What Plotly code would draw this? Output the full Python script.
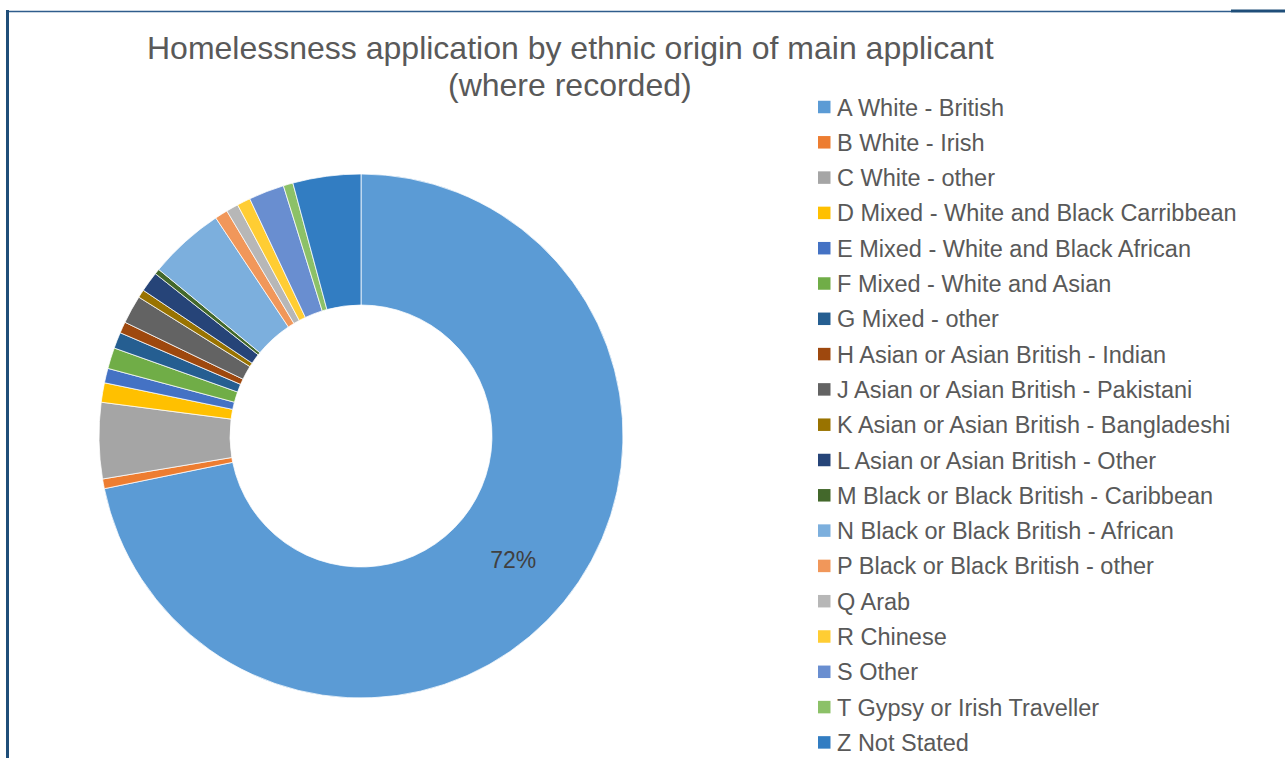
import plotly.graph_objects as go

# Ethnic origin categories and their share of applications (%)
categories = [
    "A White - British",
    "B White - Irish",
    "C White - other",
    "D Mixed - White and Black Carribbean",
    "E Mixed - White and Black African",
    "F Mixed - White and Asian",
    "G Mixed - other",
    "H Asian or Asian British - Indian",
    "J Asian or Asian British - Pakistani",
    "K Asian or Asian British - Bangladeshi",
    "L Asian or Asian British - Other",
    "M Black or Black British - Caribbean",
    "N Black or Black British - African",
    "P Black or Black British - other",
    "Q Arab",
    "R Chinese",
    "S Other",
    "T Gypsy or Irish Traveller",
    "Z Not Stated",
]
shares = [72.0, 0.6, 4.7, 1.2, 0.9, 1.3, 1.0, 0.7, 1.75, 0.5, 1.25, 0.33,
          4.7, 0.8, 0.75, 0.83, 2.2, 0.6, 4.2]
colors = [
    "#5B9BD5", "#ED7D31", "#A5A5A5", "#FFC000", "#4472C4", "#70AD47",
    "#255E91", "#9E480E", "#636363", "#997300", "#264478", "#43682B",
    "#7CAFDD", "#F1975A", "#B7B7B7", "#FFCD33", "#698ED0", "#8CC168",
    "#327DC2",
]
# only the dominant slice carries a percentage label
label_templates = ["%{percent:.0%}"] + [""] * (len(categories) - 1)

W, H = 1285, 758
FONT = "Liberation Sans, Arial, sans-serif"

# donut placement in pixels
cx, cy, r = 361, 436, 262

fig = go.Figure(
    go.Pie(
        labels=categories,
        values=shares,
        sort=False,
        direction="clockwise",
        rotation=0,
        hole=0.5,
        marker=dict(colors=colors, line=dict(color="white", width=0.75)),
        texttemplate=label_templates,
        textposition="inside",
        insidetextorientation="horizontal",
        textfont=dict(family=FONT, size=23, color="#404040"),
        hoverinfo="label+percent",
        domain=dict(
            x=[(cx - r) / W, (cx + r) / W],
            y=[1 - (cy + r) / H, 1 - (cy - r) / H],
        ),
        showlegend=False,
    )
)

annotations = []
shapes = []

# two-line title
for text, ypix in [("Homelessness application by ethnic origin of main applicant", 48),
                   ("(where recorded)", 85)]:
    annotations.append(dict(
        text=text, x=570 / W, y=1 - ypix / H, xref="paper", yref="paper",
        xanchor="center", yanchor="middle", showarrow=False,
        font=dict(family=FONT, size=32, color="#595959"),
    ))

# legend: square swatch + label per category
leg_x0, leg_y0, leg_step, sw = 818, 107, 35.3, 12.5
for i, (name, col) in enumerate(zip(categories, colors)):
    yc = leg_y0 + i * leg_step
    shapes.append(dict(
        type="rect", xref="paper", yref="paper",
        x0=leg_x0 / W, x1=(leg_x0 + sw) / W,
        y0=1 - (yc + sw / 2) / H, y1=1 - (yc - sw / 2) / H,
        fillcolor=col, line=dict(width=0),
    ))
    annotations.append(dict(
        text=name, x=(leg_x0 + sw + 4) / W, y=1 - (yc + 0.5) / H,
        xref="paper", yref="paper", xanchor="left", yanchor="middle",
        showarrow=False, font=dict(family=FONT, size=23.5, color="#595959"),
    ))

# frame lines along the left and top edges
frame = "#1F4E79"
shapes += [
    dict(type="rect", xref="paper", yref="paper", x0=6 / W, x1=9 / W,
         y0=0, y1=1 - 10 / H, fillcolor=frame, line=dict(width=0)),
    dict(type="line", xref="paper", yref="paper", x0=9 / W, x1=1231 / W,
         y0=1 - 11.5 / H, y1=1 - 11.5 / H, line=dict(color="#2F5D8C", width=1.5)),
    dict(type="rect", xref="paper", yref="paper", x0=1231 / W, x1=1,
         y0=1 - 12.5 / H, y1=1 - 9.5 / H, fillcolor=frame, line=dict(width=0)),
]

fig.update_layout(
    width=W, height=H,
    margin=dict(l=0, r=0, t=0, b=0),
    paper_bgcolor="white", plot_bgcolor="white",
    annotations=annotations, shapes=shapes,
    showlegend=False,
)

fig.write_html("out.html")
